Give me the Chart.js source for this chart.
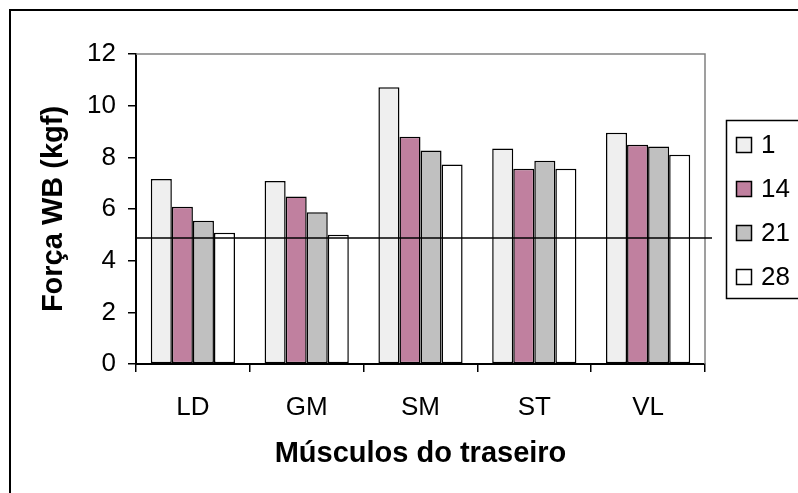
<!DOCTYPE html>
<html>
<head>
<meta charset="utf-8">
<script src="https://cdn.jsdelivr.net/npm/chart.js@4.4.1/dist/chart.umd.min.js"></script>
<style>
  html, body { margin: 0; padding: 0; background: #fff; }
  #grafico { display: block; }
</style>
</head>
<body>
<canvas id="grafico" width="798" height="493"></canvas>
<script>
// músculos e dias de maturação
const musculos = ['LD', 'GM', 'SM', 'ST', 'VL'];
const dias = ['1', '14', '21', '28'];

const forca_1  = [7.16, 7.08, 10.71, 8.34, 8.95];
const forca_14 = [6.09, 6.48, 8.80, 7.56, 8.49];
const forca_21 = [5.55, 5.87, 8.26, 7.87, 8.42];
const forca_28 = [5.08, 5.00, 7.72, 7.56, 8.10];

const linha_ref = 4.88;

const cores = ['#efefef', '#c0809f', '#c0c0c0', '#ffffff'];
const fonte = "'Liberation Sans', Arial, sans-serif";

let series = [forca_1, forca_14, forca_21, forca_28];

let datasets = series.map(function (valores, i) {
    return {
        label: dias[i],
        data: valores,
        backgroundColor: cores[i],
        borderColor: '#000000',
        borderWidth: 1.5,
        borderSkipped: false
    };
});

// moldura, borda cinza do gráfico e linha de referência
const extras = {
    id: 'extras',
    beforeDraw(chart) {
        const ctx = chart.ctx;
        ctx.save();
        ctx.fillStyle = '#ffffff';
        ctx.fillRect(0, 0, chart.width, chart.height);
        ctx.strokeStyle = '#000000';
        ctx.lineWidth = 2;
        ctx.strokeRect(10, 10, 900, 900);
        ctx.restore();
    },
    beforeDatasetsDraw(chart) {
        const a = chart.chartArea;
        const ctx = chart.ctx;
        ctx.save();
        ctx.strokeStyle = '#808080';
        ctx.lineWidth = 1.5;
        ctx.beginPath();
        ctx.moveTo(a.left, a.top);
        ctx.lineTo(a.right, a.top);
        ctx.lineTo(a.right, a.bottom);
        ctx.stroke();
        ctx.restore();
    },
    afterDatasetsDraw(chart) {
        const a = chart.chartArea;
        const y = chart.scales.y.getPixelForValue(linha_ref);
        const ctx = chart.ctx;
        ctx.save();
        ctx.strokeStyle = '#000000';
        ctx.lineWidth = 1.5;
        ctx.beginPath();
        ctx.moveTo(a.left, y);
        ctx.lineTo(a.right + 7, y);
        ctx.stroke();
        ctx.restore();
    },
    afterDraw(chart) {
        // legenda com moldura
        const ctx = chart.ctx;
        ctx.save();
        ctx.strokeStyle = '#000000';
        ctx.lineWidth = 1.5;
        ctx.strokeRect(726.5, 120.5, 200, 178);
        ctx.font = '26px ' + fonte;
        ctx.textBaseline = 'middle';
        ctx.fillStyle = '#000000';
        chart.data.datasets.forEach(function (ds, i) {
            const cy = 145 + i * 44;
            ctx.fillStyle = ds.backgroundColor;
            ctx.fillRect(736.5, cy - 7.5, 15, 15);
            ctx.strokeStyle = '#000000';
            ctx.lineWidth = 1.5;
            ctx.strokeRect(736.5, cy - 7.5, 15, 15);
            ctx.fillStyle = '#000000';
            ctx.fillText(ds.label, 761, cy + 1);
        });
        ctx.restore();
    }
};

let myChart = new Chart(document.getElementById('grafico'), {
    type: 'bar',
    data: {
        labels: musculos,
        datasets: datasets
    },
    options: {
        responsive: false,
        animation: false,
        devicePixelRatio: 1,
        categoryPercentage: 0.74,
        barPercentage: 1.0,
        layout: {
            padding: { left: 0, top: 54, right: 93, bottom: 0 }
        },
        plugins: {
            legend: { display: false },
            tooltip: { enabled: false }
        },
        scales: {
            x: {
                afterFit: function (scale) { scale.height = 129; },
                grid: {
                    display: true,
                    offset: true,
                    drawOnChartArea: false,
                    drawTicks: true,
                    tickLength: 8,
                    color: '#000000',
                    lineWidth: 1.5
                },
                border: { display: true, color: '#000000', width: 2 },
                ticks: {
                    color: '#000000',
                    padding: 20,
                    font: { family: fonte, size: 26 }
                },
                title: {
                    display: true,
                    text: 'Músculos do traseiro',
                    color: '#000000',
                    font: { family: fonte, size: 29, weight: 'bold' },
                    padding: { top: 0, bottom: 22 }
                }
            },
            y: {
                min: 0,
                max: 12,
                afterFit: function (scale) { scale.width = 136; },
                grid: {
                    display: true,
                    drawOnChartArea: false,
                    drawTicks: true,
                    tickLength: 8,
                    color: '#000000',
                    lineWidth: 1.5
                },
                border: { display: true, color: '#000000', width: 2 },
                ticks: {
                    stepSize: 1,
                    color: '#000000',
                    padding: 12,
                    font: { family: fonte, size: 26 },
                    callback: function (v) { return v % 2 === 0 ? v : ''; }
                },
                title: {
                    display: true,
                    text: 'Força WB (kgf)',
                    color: '#000000',
                    font: { family: fonte, size: 29, weight: 'bold' },
                    padding: { top: 37, bottom: 0 }
                }
            }
        }
    },
    plugins: [extras]
});
</script>
</body>
</html>
